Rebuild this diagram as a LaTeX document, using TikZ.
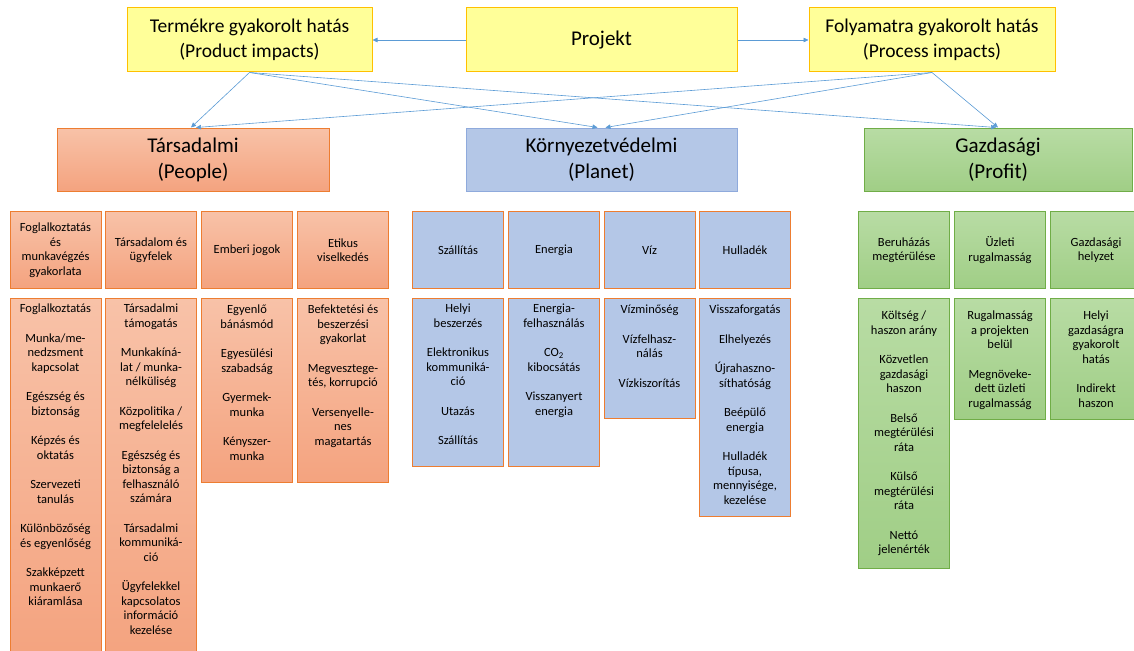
\documentclass[tikz,border=0pt]{standalone}
\usepackage{fontspec}
\setmainfont{Carlito}
\usetikzlibrary{arrows.meta}

\definecolor{yelfill}{RGB}{255,255,153}
\definecolor{yelline}{RGB}{255,192,0}
\definecolor{orline}{RGB}{237,125,49}
\definecolor{ortop}{RGB}{248,194,168}
\definecolor{orbot}{RGB}{244,163,127}
\definecolor{bluefill}{RGB}{180,199,231}
\definecolor{blueline}{RGB}{143,170,220}
\definecolor{grline}{RGB}{112,173,71}
\definecolor{grtop}{RGB}{184,220,164}
\definecolor{grbot}{RGB}{160,206,134}
\definecolor{arrowblue}{RGB}{91,155,213}

\begin{document}
\begin{tikzpicture}[x=1pt,y=-1pt,
    yelbox/.style={draw=yelline,fill=yelfill,line width=1pt,minimum height=64pt,inner sep=0pt,align=center},
    pillar/.style={line width=1pt,minimum height=63pt,inner sep=0pt,align=center,font=\fontsize{21}{26}\selectfont},
    orfill/.style={draw=orline,top color=ortop,bottom color=orbot},
    blfill/.style={draw=orline,fill=bluefill},
    grfill/.style={draw=grline,top color=grtop,bottom color=grbot},
    cell/.style={anchor=north west,minimum width=91pt,line width=1pt,inner sep=0pt,align=center,font=\fontsize{12.5}{14.5}\selectfont},
    hd/.style={cell,minimum height=77pt},
    items/.style={anchor=north,align=center,inner sep=0pt,font=\fontsize{12.5}{14.5}\selectfont},
    link/.style={arrowblue,line width=0.6pt,-{Triangle[length=5pt,width=4.5pt]}}]
  \useasboundingbox (0,0) rectangle (1134,650);

  \node[yelbox,minimum width=245pt,font=\fontsize{19.5}{25}\selectfont] (term) at (249.5,40) {Termékre gyakorolt hatás\\(Product impacts)};
  \node[yelbox,minimum width=271pt,font=\fontsize{21}{26}\selectfont] (proj) at (601.5,40) {Projekt};
  \node[yelbox,minimum width=246pt,font=\fontsize{19.5}{25}\selectfont] (foly) at (932,40) {Folyamatra gyakorolt hatás\\(Process impacts)};

  \node[pillar,orfill,minimum width=272pt] (tars) at (193,159.5) {Társadalmi\\(People)};
  \node[pillar,draw=blueline,fill=bluefill,minimum width=271pt] (korny) at (601.5,159.5) {Környezetvédelmi\\(Planet)};
  \node[pillar,grfill,minimum width=268pt] (gazd) at (998,159.5) {Gazdasági\\(Profit)};

  \draw[link] (proj) -- (term);
  \draw[link] (proj) -- (foly);
  \draw[link] (term.south) -- ([xshift=-2pt]tars.north);
  \draw[link] (term.south) -- ([xshift=-4pt]korny.north);
  \draw[link] (term.south) -- ([xshift=-2pt]gazd.north);
  \draw[link] (foly.south) -- ([xshift=3pt]tars.north);
  \draw[link] (foly.south) -- ([xshift=4pt]korny.north);
  \draw[link] (foly.south) -- (gazd.north);

  % People
  \node[hd,orfill] (foglhd) at (9.5,211) {Foglalkoztatás\\és\\munkavégzés\\gyakorlata};
  \node[hd,orfill] (tarshd) at (105,211) {Társadalom és\\ügyfelek};
  \node[hd,orfill] (joghd) at (201,211) {Emberi jogok};
  \node[hd,orfill] (etikhd) at (297,211) {Etikus\\viselkedés};
  \node[cell,orfill,minimum height=360pt] (foglbox) at (9.5,298) {};
  \node[cell,orfill,minimum height=360pt] (tarsbox) at (105,298) {};
  \node[cell,orfill,minimum height=184pt] (jogbox) at (201,298) {};
  \node[cell,orfill,minimum height=184pt] (etikbox) at (297,298) {};
  \node[items] (foglitems) at ([yshift=-6pt]foglbox.north) {Foglalkoztatás\\[15pt]Munka/me-\\nedzsment\\kapcsolat\\[15pt]Egészség és\\biztonság\\[15pt]Képzés és\\oktatás\\[15pt]Szervezeti\\tanulás\\[15pt]Különbözőség\\és egyenlőség\\[15pt]Szakképzett\\munkaerő\\kiáramlása};
  \node[items] (tarsitems) at ([yshift=-6pt]tarsbox.north) {Társadalmi\\támogatás\\[15pt]Munkakíná-\\lat / munka-\\nélküliség\\[15pt]Közpolitika /\\megfelelelés\\[15pt]Egészség és\\biztonság a\\felhasználó\\számára\\[15pt]Társadalmi\\kommuniká-\\ció\\[15pt]Ügyfelekkel\\kapcsolatos\\információ\\kezelése};
  \node[items] (jogitems) at ([yshift=-7pt]jogbox.north) {Egyenlő\\bánásmód\\[15pt]Egyesülési\\szabadság\\[15pt]Gyermek-\\munka\\[15pt]Kényszer-\\munka};
  \node[items] (etikitems) at ([yshift=-7pt]etikbox.north) {Befektetési és\\beszerzési\\gyakorlat\\[15pt]Megvesztege-\\tés, korrupció\\[15pt]Versenyelle-\\nes\\magatartás};

  % Planet
  \node[hd,blfill] (szallhd) at (412,211) {Szállítás};
  \node[hd,blfill] (enerhd) at (508,211) {Energia};
  \node[hd,blfill] (vizhd) at (603.5,211) {Víz};
  \node[hd,blfill] (hullhd) at (699,211) {Hulladék};
  \node[cell,blfill,minimum height=168pt] (szallbox) at (412,298) {};
  \node[cell,blfill,minimum height=168pt] (enerbox) at (508,298) {};
  \node[cell,blfill,minimum height=120pt] (vizbox) at (603.5,298) {};
  \node[cell,blfill,minimum height=218pt] (hullbox) at (699,298) {};
  \node[items] (szallitems) at ([yshift=-6pt]szallbox.north) {Helyi\\beszerzés\\[15pt]Elektronikus\\kommuniká-\\ció\\[15pt]Utazás\\[15pt]Szállítás};
  \node[items] (eneritems) at ([yshift=-6pt]enerbox.north) {Energia-\\felhasználás\\[15pt]CO\textsubscript{2}\\kibocsátás\\[15pt]Visszanyert\\energia};
  \node[items] (vizitems) at ([yshift=-7pt]vizbox.north) {Vízminőség\\[15pt]Vízfelhasz-\\nálás\\[15pt]Vízkiszorítás};
  \node[items] (hullitems) at ([yshift=-7pt]hullbox.north) {Visszaforgatás\\[15pt]Elhelyezés\\[15pt]Újrahaszno-\\síthatóság\\[15pt]Beépülő\\energia\\[15pt]Hulladék\\típusa,\\mennyisége,\\kezelése};

  % Profit
  \node[hd,grfill] (beruhd) at (858,211) {Beruházás\\megtérülése};
  \node[hd,grfill] (uzlhd) at (954,211) {Üzleti\\rugalmasság};
  \node[hd,grfill] (helyzhd) at (1050,211) {Gazdasági\\helyzet};
  \node[cell,grfill,minimum height=270pt] (berubox) at (858,298) {};
  \node[cell,grfill,minimum height=121pt] (uzlbox) at (954,298) {};
  \node[cell,grfill,minimum height=121pt] (helyzbox) at (1050,298) {};
  \node[items] (beruitems) at ([yshift=-13pt]berubox.north) {Költség /\\haszon arány\\[15pt]Közvetlen\\gazdasági\\haszon\\[15pt]Belső\\megtérülési\\ráta\\[15pt]Külső\\megtérülési\\ráta\\[15pt]Nettó\\jelenérték};
  \node[items] (uzlitems) at ([yshift=-13pt]uzlbox.north) {Rugalmasság\\a projekten\\belül\\[15pt]Megnöveke-\\dett üzleti\\rugalmasság};
  \node[items] (helyzitems) at ([yshift=-13pt]helyzbox.north) {Helyi\\gazdaságra\\gyakorolt\\hatás\\[15pt]Indirekt\\haszon};
\end{tikzpicture}
\end{document}
